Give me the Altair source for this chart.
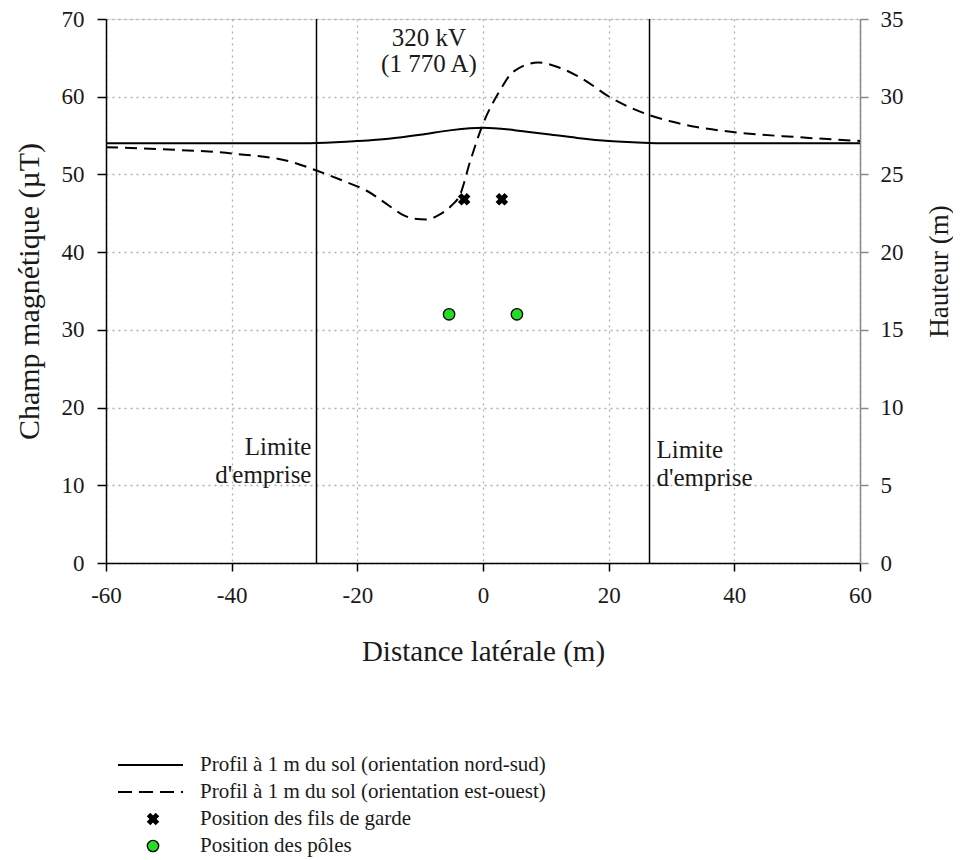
import altair as alt
import pandas as pd

FONT = "Liberation Serif"

# ---- data ----
ns_x = [-60, -40, -30, -26.5, -20, -15, -10, -5, 0, 5, 10, 15, 20, 26.5, 30, 40, 60]
ns_y = [54.0, 54.0, 54.0, 54.05, 54.3, 54.6, 55.1, 55.7, 56.0, 55.7, 55.2, 54.7, 54.3, 54.05, 54.0, 54.0, 54.0]

eo_x = [-60, -50, -40, -30, -26.5, -22, -18.5, -15, -13, -11, -9, -7, -5, -3.7, -2, 0,
        2.7, 4.8, 8.8, 12, 15.4, 20.7, 26.6, 30, 34, 40.4, 50, 60]
eo_y = [53.5, 53.2, 52.7, 51.5, 50.5, 49.1, 47.9, 46.0, 44.9, 44.3, 44.2, 44.8, 46.0, 47.3, 51.8, 56.5,
        60.8, 63.2, 64.4, 63.8, 62.5, 59.7, 57.6, 56.8, 56.1, 55.4, 54.8, 54.3]

garde_x = [-3, 3]
garde_h = [23.4, 23.4]
poles_x = [-5.4, 5.4]
poles_h = [16.0, 16.0]

limits_x = [-26.5, 26.5]

legend_labels = [
    "Profil à 1 m du sol (orientation nord-sud)",
    "Profil à 1 m du sol (orientation est-ouest)",
    "Position des fils de garde",
    "Position des pôles",
]

W, H = 754, 544
TXT = "#1a1a1a"
GREEN = "#22dd22"

xscale = alt.Scale(domain=[-60, 60], nice=False, zero=False)
yL = alt.Scale(domain=[0, 70], nice=False)
yR = alt.Scale(domain=[0, 35], nice=False)

common_grid = dict(grid=True, gridDash=[2, 4], gridColor="#b0b0b0", gridWidth=1.3)

xaxis = alt.Axis(values=[-60, -40, -20, 0, 20, 40, 60], title="Distance latérale (m)",
                 labelExpr="'' + datum.value", labelFlush=False, labelOverlap=False,
                 tickSize=8, tickColor="black", tickWidth=1.5, domainColor="black", domainWidth=1.5,
                 labelFont=FONT, labelFontSize=23, labelColor=TXT, labelPadding=13,
                 titleFont=FONT, titleFontSize=29, titleFontWeight="normal", titleColor=TXT,
                 titlePadding=30, **common_grid)
yaxisL = alt.Axis(values=[0, 10, 20, 30, 40, 50, 60, 70], title="Champ magnétique (µT)",
                  labelExpr="'' + datum.value", labelFlush=False, labelOverlap=False,
                  tickSize=9, tickColor="black", tickWidth=1.5, domainColor="black", domainWidth=1.5,
                  labelFont=FONT, labelFontSize=23, labelColor=TXT, labelPadding=13,
                  titleFont=FONT, titleFontSize=30, titleFontWeight="normal", titleColor=TXT,
                  titlePadding=17, **common_grid)
yaxisR = alt.Axis(orient="right", values=[0, 5, 10, 15, 20, 25, 30, 35], title="Hauteur (m)",
                  labelFlush=False, labelOverlap=False,
                  grid=False, tickSize=8, tickColor="#888", tickWidth=1.5, domainColor="#888",
                  domainWidth=1.5, labelFont=FONT, labelFontSize=23, labelColor=TXT, labelPadding=12,
                  titleFont=FONT, titleFontSize=27, titleFontWeight="normal", titleColor=TXT,
                  titleAngle=-90, titleX=79, titleY=252, titleAlign="center", titleBaseline="middle")

ns_df = pd.DataFrame({"x": ns_x, "y": ns_y})
eo_df = pd.DataFrame({"x": eo_x, "y": eo_y})

ns_line = alt.Chart(ns_df).mark_line(color="black", strokeWidth=2, interpolate="monotone").encode(
    x=alt.X("x:Q", scale=xscale, axis=xaxis),
    y=alt.Y("y:Q", scale=yL, axis=yaxisL),
)
eo_line = alt.Chart(eo_df).mark_line(color="black", strokeWidth=2, strokeDash=[12, 7],
                                     interpolate="monotone").encode(
    x=alt.X("x:Q", scale=xscale), y=alt.Y("y:Q", scale=yL))

lim_df = pd.DataFrame({"x": limits_x})
lim_rules = alt.Chart(lim_df).mark_rule(color="black", strokeWidth=1.5).encode(
    x=alt.X("x:Q", scale=xscale))

ann_c = alt.Chart(pd.DataFrame({"x": [-8.6, -8.6], "y": [67.5, 64.2], "t": ["320 kV", "(1 770 A)"]})).mark_text(
    font=FONT, fontSize=25, align="center", baseline="middle", color=TXT).encode(
    x=alt.X("x:Q", scale=xscale), y=alt.Y("y:Q", scale=yL), text="t:N")
ann_l = alt.Chart(pd.DataFrame({"x": [-27.3, -27.3], "y": [14.9, 11.3], "t": ["Limite", "d'emprise"]})).mark_text(
    font=FONT, fontSize=25, align="right", baseline="middle", color=TXT).encode(
    x=alt.X("x:Q", scale=xscale), y=alt.Y("y:Q", scale=yL), text="t:N")
ann_r = alt.Chart(pd.DataFrame({"x": [27.6, 27.6], "y": [14.5, 10.9], "t": ["Limite", "d'emprise"]})).mark_text(
    font=FONT, fontSize=25, align="left", baseline="middle", color=TXT).encode(
    x=alt.X("x:Q", scale=xscale), y=alt.Y("y:Q", scale=yL), text="t:N")

left = alt.layer(ns_line, eo_line, lim_rules, ann_c, ann_l, ann_r)

garde = alt.Chart(pd.DataFrame({"x": garde_x, "h": garde_h})).mark_point(
    shape="cross", angle=45, filled=True, color="black", size=160, opacity=1).encode(
    x=alt.X("x:Q", scale=xscale), y=alt.Y("h:Q", scale=yR, axis=yaxisR))
poles = alt.Chart(pd.DataFrame({"x": poles_x, "h": poles_h})).mark_point(
    shape="circle", filled=True, fill=GREEN, stroke="black", strokeWidth=1.3, size=130, opacity=1).encode(
    x=alt.X("x:Q", scale=xscale), y=alt.Y("h:Q", scale=yR))

right = alt.layer(garde, poles)

# ---- manual legend below the chart (pixel positions inside the view) ----
leg_rows = [746, 773, 800, 827]
leg_texts = [
    alt.Chart(pd.DataFrame({"t": [lab]})).mark_text(
        font=FONT, fontSize=21, align="left", baseline="middle", color=TXT).encode(
        x=alt.value(94), y=alt.value(row), text="t:N")
    for lab, row in zip(legend_labels, leg_rows)
]
leg_l1 = alt.Chart(pd.DataFrame({"a": [0]})).mark_rule(color="black", strokeWidth=2).encode(
    x=alt.value(12), x2=alt.value(77), y=alt.value(leg_rows[0]))
leg_l2 = alt.Chart(pd.DataFrame({"a": [0]})).mark_rule(color="black", strokeWidth=2, strokeDash=[14, 7]).encode(
    x=alt.value(12), x2=alt.value(77), y=alt.value(leg_rows[1]))
leg_p1 = alt.Chart(pd.DataFrame({"a": [0]})).mark_point(
    shape="cross", angle=45, filled=True, color="black", size=160, opacity=1).encode(
    x=alt.value(47), y=alt.value(leg_rows[2]))
leg_p2 = alt.Chart(pd.DataFrame({"a": [0]})).mark_point(
    shape="circle", filled=True, fill=GREEN, stroke="black", strokeWidth=1.3, size=130, opacity=1).encode(
    x=alt.value(47), y=alt.value(leg_rows[3]))
legend = alt.layer(*leg_texts, leg_l1, leg_l2, leg_p1, leg_p2)

chart = alt.layer(left, right, legend).resolve_scale(y="independent").properties(
    width=W, height=H,
    autosize=alt.AutoSizeParams(type="none"),
    padding={"left": 98, "top": 11, "right": 93, "bottom": 294},
).configure_view(stroke="black", strokeWidth=1.5).configure(background="white")

chart.save("out.html", embed_options={"renderer": "svg", "actions": False})
